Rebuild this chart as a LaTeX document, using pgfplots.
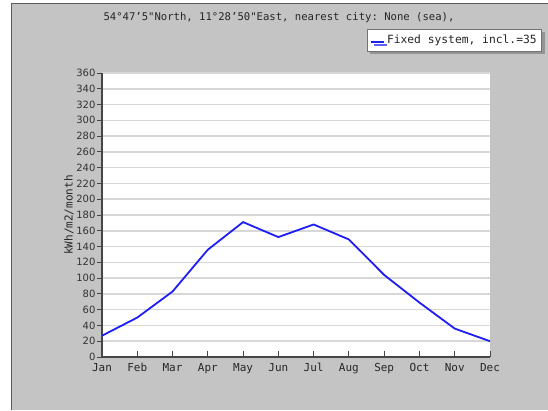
\documentclass[border=0pt]{standalone}
\usepackage{pgfplots}
\pgfplotsset{compat=1.18}
\usepackage{fontspec}
\setmainfont{DejaVu Sans Mono}
\setmonofont{DejaVu Sans Mono}
\newfontfamily\sansf{DejaVu Sans}
\usetikzlibrary{shadows}
\definecolor{bggray}{RGB}{196,196,196}
\definecolor{framegray}{RGB}{90,90,90}
\definecolor{gridgray}{RGB}{215,215,215}
\definecolor{axisgray}{RGB}{70,70,70}
\definecolor{lineblue}{RGB}{30,30,245}
\begin{document}
\begin{tikzpicture}
\useasboundingbox (-102pt,-53pt) rectangle (446pt,357pt);
\clip (-102pt,-53pt) rectangle (446pt,357pt);
\fill[white] (-102pt,-53pt) rectangle (446pt,357pt);
\fill[bggray] (-91pt,-53pt) rectangle (446pt,354pt);
\draw[framegray,line width=1.6pt] (-90.5pt,-53pt) -- (-90.5pt,353.5pt) -- (446pt,353.5pt);
\node[font=\ttfamily\fontsize{10.6}{12}\selectfont, text=black!85] at (177pt,339pt) {54°47’5"North, 11°28’50"East, nearest city: None (sea),};
\begin{axis}[
  at={(0pt,0pt)}, anchor=origin,
  scale only axis,
  width=388pt, height=284pt,
  xmin=0, xmax=11, ymin=0, ymax=360,
  axis background/.style={fill=white},
  axis x line=bottom, axis y line=left,
  axis line style={axisgray, line width=1.2pt, -},
  xtick={0,...,11},
  xticklabels={Jan,Feb,Mar,Apr,May,Jun,Jul,Aug,Sep,Oct,Nov,Dec},
  ytick={0,20,...,360},
  ymajorgrids,
  grid style={gridgray, line width=1.6pt},
  /pgf/number format/assume math mode=true,
  xticklabel style={font=\fontsize{11}{12}\selectfont, text=black!85, yshift=-3pt},
  yticklabel style={font=\sansf\fontsize{10}{11}\selectfont, text=black!80, xshift=-3pt},
  tick align=inside,
  major tick length=6pt,
  x tick style={axisgray, line width=1pt},
  y tick style={axisgray, line width=1pt, xshift=-5pt},
  ylabel={kWh/m2/month},
  ylabel style={font=\fontsize{11}{12}\selectfont, text=black!85, at={(axis description cs:-0.085,0.5)}, anchor=center},
  legend style={at={(axis description cs:0.683,1.155)}, anchor=north west,
    draw=black!55, fill=white, font=\fontsize{11.3}{12}\selectfont, text=black!85,
    inner xsep=3pt, inner ysep=4pt,
    drop shadow={shadow xshift=3pt, shadow yshift=-3pt, fill=black!50, opacity=0.7}},
  legend image code/.code={\draw[#1] (0pt,-1.5pt) -- (13pt,-1.5pt);},
]
\addplot[lineblue, line width=1.8pt] coordinates {
(0,27) (1,50) (2,83) (3,136) (4,171) (5,152) (6,168) (7,149) (8,104) (9,69) (10,36) (11,20)
};
\addlegendentry{Fixed system, incl.=35}
\end{axis}
\end{tikzpicture}
\end{document}
